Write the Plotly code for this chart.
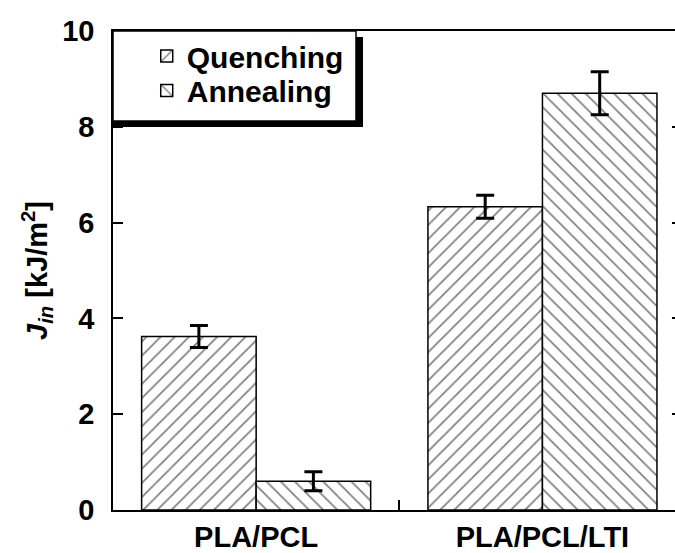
import plotly.graph_objects as go

categories = [1, 2]
category_labels = ["PLA/PCL", "PLA/PCL/LTI"]
series_names = ["Quenching", "Annealing"]
quenching = [3.62, 6.33]
quenching_err = [0.23, 0.24]
annealing = [0.60, 8.70]
annealing_err = [0.20, 0.45]
y_ticks = [0, 2, 4, 6, 8, 10]

FAMILY = "Arial, 'Liberation Sans', sans-serif"
FONT = dict(family=FAMILY, color="black", size=29, weight="bold")

fig = go.Figure()
for name, vals, errs, shape, leg in [
    (series_names[0], quenching, quenching_err, "/", "legend"),
    (series_names[1], annealing, annealing_err, "\\", "legend2"),
]:
    fig.add_trace(go.Bar(
        x=categories, y=vals, name=name, legend=leg,
        marker=dict(color="white", line=dict(color="black", width=1.5),
                    pattern=dict(shape=shape, size=10, solidity=0.17, fgcolor="black", bgcolor="white")),
        error_y=dict(type="data", array=errs, visible=True, color="black", thickness=3, width=9),
    ))

# y2 for right-side tick stubs (axis line sits beyond the visible area)
fig.add_trace(go.Scatter(x=[None], y=[None], yaxis="y2", showlegend=False))

# legend box with drop shadow
fig.add_shape(type="rect", xref="paper", yref="paper", xsizemode="pixel", ysizemode="pixel",
              xanchor=0, yanchor=1, x0=-1, x1=250, y0=-6, y1=-96,
              fillcolor="black", line=dict(width=0), layer="above")
fig.add_shape(type="rect", xref="paper", yref="paper", xsizemode="pixel", ysizemode="pixel",
              xanchor=0, yanchor=1, x0=0, x1=243, y0=0, y1=-90,
              fillcolor="white", line=dict(color="black", width=1.5), layer="above")

LEG = dict(xanchor="left", yanchor="middle", bgcolor="rgba(0,0,0,0)", borderwidth=0,
           font=dict(size=30, family=FAMILY, weight="bold", color="black"))

fig.update_layout(
    width=675, height=553,
    margin=dict(l=113, r=0, t=31, b=36),
    paper_bgcolor="white", plot_bgcolor="white",
    font=FONT,
    barmode="group", bargap=0.2, bargroupgap=0,
    showlegend=True,
    legend=dict(x=0.06, y=0.948, **LEG),
    legend2=dict(x=0.06, y=0.876, **LEG),
    xaxis=dict(range=[0.5, 2.463], tickvals=categories, ticktext=category_labels,
               ticks="", showline=True, linecolor="black", linewidth=1.5, mirror=True,
               showgrid=False, zeroline=False, tickfont=FONT,
               minor=dict(tickvals=[1.5], ticks="inside", ticklen=10, tickwidth=1.5, tickcolor="black")),
    yaxis=dict(range=[0, 10], tickvals=y_ticks, ticks="inside", ticklen=10, tickwidth=1.5,
               tickcolor="black", showline=True, linecolor="black", linewidth=1.5,
               showgrid=False, zeroline=False, tickfont=FONT, ticklabelstandoff=11,
               title=dict(text="<i>J</i><sub><i>in</i></sub> [kJ/m<sup>2</sup>]", font=FONT, standoff=6)),
    yaxis2=dict(range=[0, 10], overlaying="y", side="right", tickvals=y_ticks, ticks="inside",
                ticklen=3, tickwidth=1.5, tickcolor="black", showline=False, showgrid=False,
                zeroline=False, showticklabels=False),
)

fig.write_html("out.html")
